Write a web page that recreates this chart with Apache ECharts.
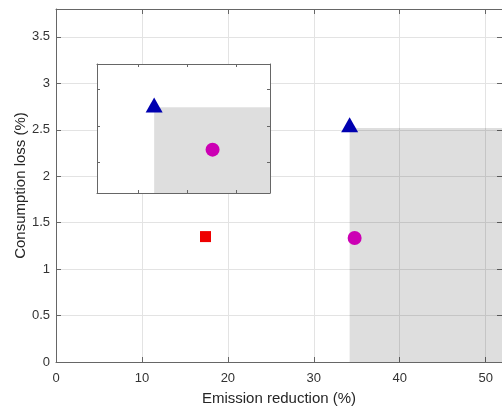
<!DOCTYPE html>
<html><head><meta charset="utf-8">
<script src="https://cdn.jsdelivr.net/npm/echarts@6/dist/echarts.min.js"></script>
<style>html,body{margin:0;padding:0;background:#fff}#c{width:502px;height:412px}</style>
</head><body><div id="c"></div>
<script>
// ---- data ----
const xName = 'Emission reduction (%)';
const yName = 'Consumption loss (%)';
const xRange = [0, 51.9];
const yRange = [0, 3.8];
const mainSquare = [[17.4, 1.35]];
const mainCircle = [[34.75, 1.335]];
const mainTriangle = [[34.17, 2.555]];
const mainShade = [[34.17, 0], [51.9, 2.52]];
const insetXRange = [0.146, 3.70];
const insetYRange = [0.166, 3.69];
const insetTicks = [1, 2, 3];
const insetTriangle = [[1.32, 2.57]];
const insetCircle = [[2.52, 1.35]];
const insetShade = [[1.32, 0.166], [3.70, 2.51]];

const AX = '#666666';
const FONT = 'Liberation Sans, Arial, sans-serif';
const shadeColor = 'rgba(0,0,0,0.13)';

function sideAxis(base, pos, extra) {
  return Object.assign({
    type: 'value', position: pos, min: base[0], max: base[1],
    axisLine: { show: true, onZero: false, lineStyle: { color: AX, width: 1 } },
    axisTick: { show: true, inside: true, length: 5, lineStyle: { color: AX } },
    axisLabel: { show: false }, splitLine: { show: false }
  }, extra);
}

const chart = echarts.init(document.getElementById('c'), null, { renderer: 'canvas' });
chart.setOption({
  animation: false,
  backgroundColor: '#fff',
  grid: [
    { left: 56, top: 9, right: 0, bottom: 50, containLabel: false },
    { left: 97, top: 64, width: 173, height: 129, show: true, backgroundColor: '#fff', borderWidth: 0, z: 10 }
  ],
  xAxis: [
    {
      type: 'value', gridIndex: 0, position: 'bottom', min: xRange[0], max: xRange[1], interval: 10,
      name: xName, nameLocation: 'middle', nameGap: 29, nameMoveOverlap: false,
      nameTextStyle: { fontFamily: FONT, fontSize: 15, color: '#262626' },
      axisLine: { show: true, onZero: false, lineStyle: { color: AX, width: 1 } },
      axisTick: { show: true, inside: true, length: 5, lineStyle: { color: AX } },
      axisLabel: { show: true, margin: 10, fontFamily: FONT, fontSize: 13, color: '#333',
        showMaxLabel: false },
      splitLine: { show: true, lineStyle: { color: '#e3e3e3', width: 1 } }
    },
    sideAxis(xRange, 'top', { gridIndex: 0, interval: 10 }),
    sideAxis(insetXRange, 'bottom', { gridIndex: 1, z: 11,
      axisTick: { show: true, inside: true, length: 3, customValues: insetTicks, lineStyle: { color: AX } } }),
    sideAxis(insetXRange, 'top', { gridIndex: 1, z: 11,
      axisTick: { show: true, inside: true, length: 3, customValues: insetTicks, lineStyle: { color: AX } } })
  ],
  yAxis: [
    {
      type: 'value', gridIndex: 0, position: 'left', min: yRange[0], max: yRange[1], interval: 0.5,
      name: yName, nameLocation: 'middle', nameGap: 28, nameRotate: 90, nameMoveOverlap: false,
      nameTextStyle: { fontFamily: FONT, fontSize: 15, color: '#262626' },
      axisLine: { show: true, onZero: false, lineStyle: { color: AX, width: 1 } },
      axisTick: { show: true, inside: true, length: 5, lineStyle: { color: AX } },
      axisLabel: { show: true, margin: 6, fontFamily: FONT, fontSize: 13, color: '#333', showMaxLabel: false },
      splitLine: { show: true, lineStyle: { color: '#e3e3e3', width: 1 } }
    },
    sideAxis(yRange, 'right', { gridIndex: 0, interval: 0.5 }),
    sideAxis(insetYRange, 'left', { gridIndex: 1, z: 11,
      axisTick: { show: true, inside: true, length: 3, customValues: insetTicks, lineStyle: { color: AX } } }),
    sideAxis(insetYRange, 'right', { gridIndex: 1, z: 11,
      axisTick: { show: true, inside: true, length: 3, customValues: insetTicks, lineStyle: { color: AX } } })
  ],
  series: [
    { type: 'scatter', xAxisIndex: 0, yAxisIndex: 0, data: mainTriangle, symbol: 'triangle',
      symbolSize: [17, 15], itemStyle: { color: '#0000b0', opacity: 1 }, z: 2 },
    { type: 'scatter', xAxisIndex: 0, yAxisIndex: 0, data: [], z: 3, silent: true,
      markArea: { silent: true, z: 1, itemStyle: { color: shadeColor },
        data: [[{ coord: mainShade[0] }, { coord: mainShade[1] }]] } },
    { type: 'scatter', xAxisIndex: 0, yAxisIndex: 0, data: mainSquare, symbol: 'rect',
      symbolSize: 11, itemStyle: { color: '#ee0000', opacity: 1 }, z: 4 },
    { type: 'scatter', xAxisIndex: 0, yAxisIndex: 0, data: mainCircle, symbol: 'circle',
      symbolSize: 14, itemStyle: { color: '#cc00b4', opacity: 1 }, z: 4 },

    { type: 'scatter', xAxisIndex: 2, yAxisIndex: 2, data: insetTriangle, symbol: 'triangle',
      symbolSize: [17, 15], itemStyle: { color: '#0000b0', opacity: 1 }, z: 12 },
    { type: 'scatter', xAxisIndex: 2, yAxisIndex: 2, data: [], z: 13, silent: true,
      markArea: { silent: true, z: 11, itemStyle: { color: shadeColor },
        data: [[{ coord: insetShade[0] }, { coord: insetShade[1] }]] } },
    { type: 'scatter', xAxisIndex: 2, yAxisIndex: 2, data: insetCircle, symbol: 'circle',
      symbolSize: 14, itemStyle: { color: '#cc00b4', opacity: 1 }, z: 14 }
  ]
});
</script></body></html>
